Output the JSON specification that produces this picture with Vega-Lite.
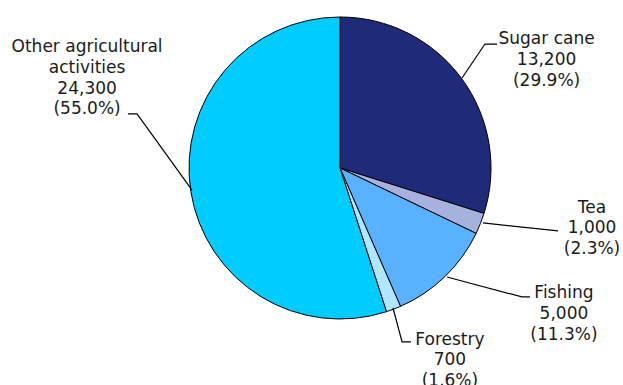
{
  "$schema": "https://vega.github.io/schema/vega-lite/v6.json",
  "width": 623,
  "height": 385,
  "autosize": {"type": "none"},
  "padding": 0,
  "background": "white",
  "config": {"view": {"stroke": null}},
  "datasets": {
    "slices": [
      {"activity": "Sugar cane", "workers": 13200, "order": 1},
      {"activity": "Tea", "workers": 1000, "order": 2},
      {"activity": "Fishing", "workers": 5000, "order": 3},
      {"activity": "Forestry", "workers": 700, "order": 4},
      {"activity": "Other agricultural activities", "workers": 24300, "order": 5}
    ],
    "leaders": [
      {"activity": "Sugar cane", "step": 1, "u": 80.8, "v": 59.6},
      {"activity": "Sugar cane", "step": 2, "u": 96.0, "v": 82.1},
      {"activity": "Sugar cane", "step": 3, "u": 104.0, "v": 82.1},
      {"activity": "Tea", "step": 1, "u": 94.7, "v": -36.4},
      {"activity": "Tea", "step": 2, "u": 144.4, "v": -41.7},
      {"activity": "Fishing", "step": 1, "u": 70.9, "v": -72.2},
      {"activity": "Fishing", "step": 2, "u": 120.5, "v": -85.4},
      {"activity": "Fishing", "step": 3, "u": 125.8, "v": -85.4},
      {"activity": "Forestry", "step": 1, "u": 35.1, "v": -92.7},
      {"activity": "Forestry", "step": 2, "u": 41.1, "v": -115.2},
      {"activity": "Forestry", "step": 3, "u": 47.0, "v": -115.2},
      {"activity": "Other agricultural activities", "step": 1, "u": -98.0, "v": -14.6},
      {"activity": "Other agricultural activities", "step": 2, "u": -134.4, "v": 35.8},
      {"activity": "Other agricultural activities", "step": 3, "u": -140.4, "v": 35.8}
    ],
    "labels": [
      {"activity": "Sugar cane", "label": "Sugar cane\n13,200\n(29.9%)", "u": 136.8, "v": 85.1},
      {"activity": "Tea", "label": "Tea\n1,000\n(2.3%)", "u": 166.9, "v": -26.2},
      {"activity": "Fishing", "label": "Fishing\n5,000\n(11.3%)", "u": 148.3, "v": -83.1},
      {"activity": "Forestry", "label": "Forestry\n700\n(1.6%)", "u": 72.8, "v": -113.6},
      {"activity": "Other agricultural activities", "label": "Other agricultural\nactivities\n24,300\n(55.0%)", "u": -167.5, "v": 80.0}
    ]
  },
  "resolve": {"scale": {"color": "independent"}},
  "layer": [
    {
      "data": {"name": "slices"},
      "mark": {"type": "arc", "outerRadius": 151, "stroke": "#000000", "strokeWidth": 1},
      "encoding": {
        "x": {"datum": 0, "type": "quantitative", "scale": {"domain": [-225.166, 187.417], "nice": false, "zero": false}, "axis": null},
        "y": {"datum": 0, "type": "quantitative", "scale": {"domain": [-143.709, 111.258], "nice": false, "zero": false}, "axis": null},
        "theta": {"field": "workers", "type": "quantitative", "stack": true},
        "order": {"field": "order", "type": "quantitative", "sort": "ascending"},
        "color": {
          "field": "activity",
          "type": "nominal",
          "legend": null,
          "scale": {
            "domain": ["Sugar cane", "Tea", "Fishing", "Forestry", "Other agricultural activities"],
            "range": ["#1f2a78", "#a7b1de", "#58b2ff", "#b0e6ff", "#00ccff"]
          }
        }
      }
    },
    {
      "data": {"name": "leaders"},
      "mark": {"type": "line", "color": "#000000", "strokeWidth": 1.2},
      "encoding": {
        "x": {"field": "u", "type": "quantitative"},
        "y": {"field": "v", "type": "quantitative"},
        "detail": {"field": "activity", "type": "nominal"},
        "order": {"field": "step", "type": "quantitative"}
      }
    },
    {
      "data": {"name": "labels"},
      "mark": {
        "type": "text",
        "font": "DejaVu Sans",
        "fontSize": 17,
        "lineBreak": "\n",
        "lineHeight": 20.7,
        "align": "center",
        "baseline": "middle",
        "color": "#1a1a1a"
      },
      "encoding": {
        "x": {"field": "u", "type": "quantitative"},
        "y": {"field": "v", "type": "quantitative"},
        "text": {"field": "label", "type": "nominal"}
      }
    }
  ]
}
